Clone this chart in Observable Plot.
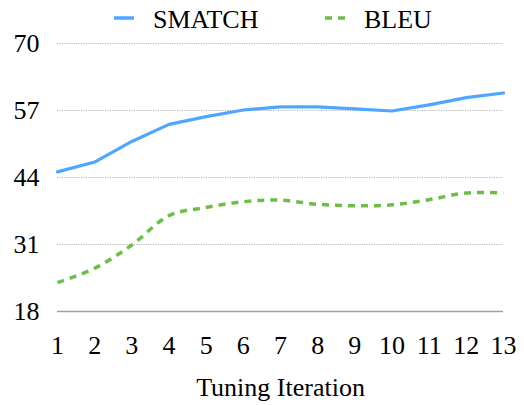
<!DOCTYPE html>
<html><head><meta charset="utf-8">
<script src="https://cdn.jsdelivr.net/npm/d3@7"></script>
<script src="https://cdn.jsdelivr.net/npm/@observablehq/plot@0.6"></script>
<style>body{margin:0;font-size:24px}</style>
</head><body>
<div style="font-family:'Liberation Serif';position:relative;height:24px;width:524px">
<svg style="position:absolute;left:114px;top:16px" width="20" height="4"><line x1="0" x2="20" y1="2" y2="2" stroke="#4ea6ff" stroke-width="3.5"></line></svg>
<span style="position:absolute;left:153px;top:7px;font-size:26px;line-height:26px;white-space:nowrap">SMATCH</span>
<svg style="position:absolute;left:325px;top:16px" width="20" height="4"><line x1="0" x2="20" y1="2" y2="2" stroke="#6cbf46" stroke-width="3.5" stroke-dasharray="7,6"></line></svg>
<span style="position:absolute;left:364px;top:7px;font-size:26px;line-height:26px;white-space:nowrap">BLEU</span>
</div>
<div id="chart"></div>
<script>
const iterations = [1,2,3,4,5,6,7,8,9,10,11,12,13];
const smatch = [45.1,47.0,51.0,54.3,55.8,57.1,57.7,57.7,57.3,56.9,58.1,59.5,60.4];
const bleu = [23.6,26.4,30.9,36.6,38.2,39.3,39.6,38.8,38.5,38.7,39.7,41.0,41.0];
const yTicks = [18,31,44,57,70];
const seriesNames = ["SMATCH","BLEU"];
const colors = ["#4ea6ff","#6cbf46"];
const xLabel = "Tuning Iteration";

const smatchRows = iterations.map((it,i)=>({iteration:it,value:smatch[i],series:seriesNames[0]}));
const bleuRows = iterations.map((it,i)=>({iteration:it,value:bleu[i],series:seriesNames[1]}));

const chart = Plot.plot({
  width:524,
  height:381,
  marginTop:19,
  marginBottom:94,
  marginLeft:57,
  marginRight:21,
  style:{fontFamily:"Liberation Serif",fontSize:"26px",overflow:"visible"},
  x:{domain:[1,13]},
  y:{domain:[18,70]},
  marks:[
    Plot.ruleY(yTicks.slice(1),{stroke:"#b5b5b5",strokeDasharray:"1.2,1.2",strokeWidth:1}),
    Plot.ruleY([yTicks[0]],{stroke:"#a0a0a0",strokeWidth:1.3}),
    Plot.line(smatchRows,{x:"iteration",y:"value",stroke:colors[0],strokeWidth:3.2}),
    Plot.line(bleuRows,{x:"iteration",y:"value",stroke:colors[1],strokeWidth:3.5,strokeDasharray:"7,6",strokeLinecap:"butt",curve:"catmull-rom"}),
    Plot.axisY(yTicks,{tickSize:0,tickPadding:18,label:null}),
    Plot.axisX(iterations,{tickSize:0,tickPadding:24,label:xLabel,labelAnchor:"center",labelOffset:84,labelArrow:false})
  ]
});
document.getElementById("chart").appendChild(chart);
</script>
</body></html>
